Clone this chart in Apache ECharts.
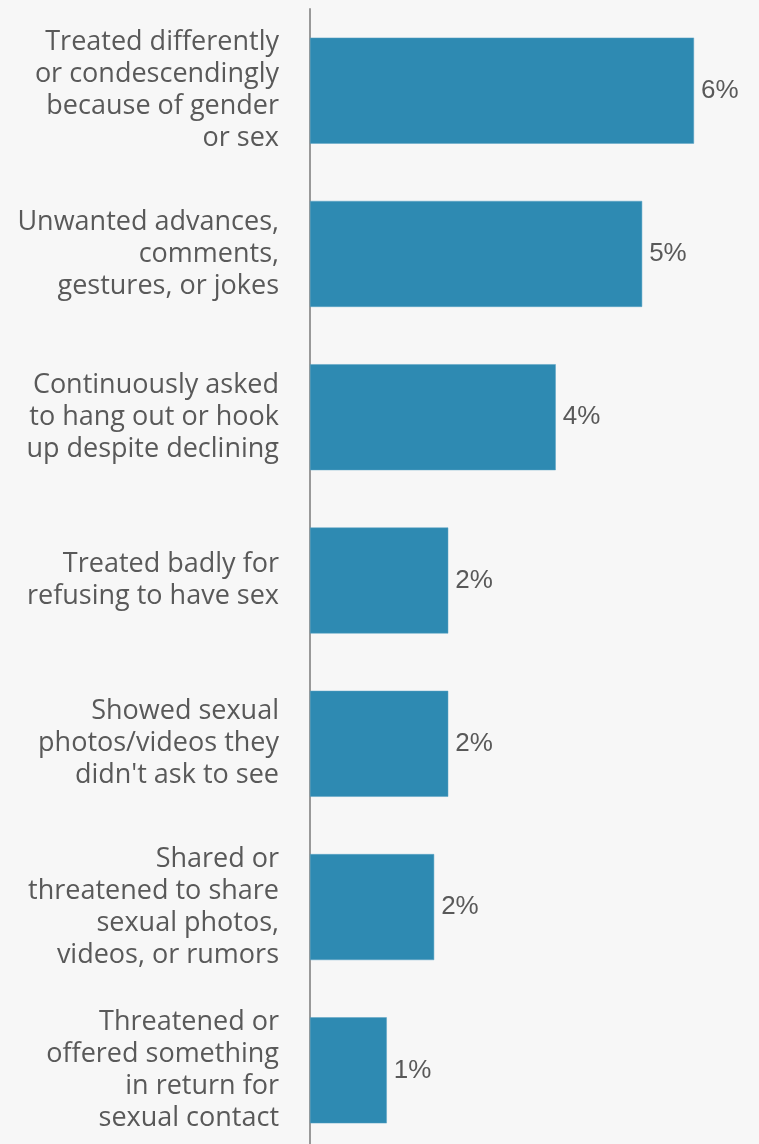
<!DOCTYPE html>
<html><head><meta charset="utf-8">
<script src="https://cdn.jsdelivr.net/npm/echarts@6/dist/echarts.min.js"></script>
<style>html,body{margin:0;padding:0;background:#f7f7f7;overflow:hidden}#c{width:759px;height:1160px}</style>
</head><body><div id="c"></div>
<script>
const categories = [
  "Treated differently\nor condescendingly\nbecause of gender\nor sex",
  "Unwanted advances,\ncomments,\ngestures, or jokes",
  "Continuously asked\nto hang out or hook\nup despite declining",
  "Treated badly for\nrefusing to have sex",
  "Showed sexual\nphotos/videos they\ndidn't ask to see",
  "Shared or\nthreatened to share\nsexual photos,\nvideos, or rumors",
  "Threatened or\noffered something\nin return for\nsexual contact"
];
const values = [6.0, 5.19, 3.84, 2.16, 2.16, 1.94, 1.2];
const valueLabels = ["6%", "5%", "4%", "2%", "2%", "2%", "1%"];

const chart = echarts.init(document.getElementById('c'), null, {renderer: 'canvas'});
chart.setOption({
  backgroundColor: '#f7f7f7',
  animation: false,
  grid: {left: 310, top: 9, width: 448, height: 1143, containLabel: false},
  xAxis: {type: 'value', min: 0, max: 7, show: false},
  yAxis: {
    type: 'category', data: categories, inverse: true,
    axisLine: {show: true, lineStyle: {color: '#999999', width: 2}},
    axisTick: {show: false},
    axisLabel: {
      margin: 31, align: 'right', color: '#595959',
      fontFamily: 'Open Sans', fontSize: 27, lineHeight: 32
    }
  },
  series: [{
    type: 'bar', data: values, barWidth: 106,
    itemStyle: {color: '#2e8ab2', borderColor: '#5aa3c4', borderWidth: 0.5},
    label: {
      show: true, position: 'right', distance: 7,
      color: '#595959', fontFamily: 'Liberation Sans', fontSize: 26,
      formatter: p => valueLabels[p.dataIndex]
    }
  }]
});
</script></body></html>
